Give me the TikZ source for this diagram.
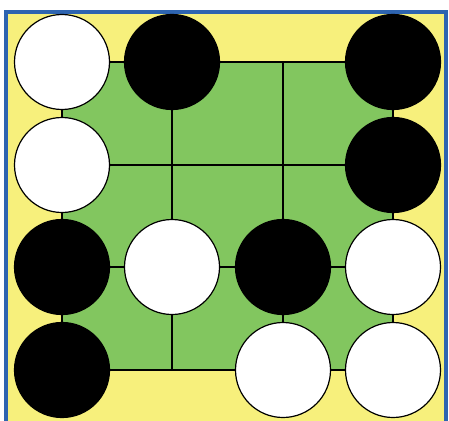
\documentclass[tikz,border=0pt]{standalone}
\usepackage{tikz}
\usepackage{xcolor}

\definecolor{boardyellow}{RGB}{247,240,124}
\definecolor{boardgreen}{RGB}{130,198,95}
\definecolor{frameblue}{RGB}{46,100,176}

\begin{document}
\begin{tikzpicture}[x=1pt,y=-1pt,
	stone/.style={circle,draw=black,line width=1.2pt,minimum size=95pt,inner sep=0pt},
	white stone/.style={stone,fill=white},
	black stone/.style={stone,fill=black}]
	\useasboundingbox (0,0) rectangle (449,420);
	\fill[white] (0,0) rectangle (449,420);
	\fill[boardyellow] (6,12) rectangle (446,426);
	\draw[frameblue,line width=3.5pt] (6,12) rectangle (446,426);

	% board points
	\foreach \i/\x in {1/62,2/172,3/283,4/393}
		\foreach \j/\y in {1/62,2/165,3/267,4/370}
			\coordinate (p\i\j) at (\x,\y);

	\fill[boardgreen] (p11) rectangle (p44);
	\foreach \k in {1,...,4} {
		\draw[line width=2.6pt] (p1\k) -- (p4\k);
		\draw[line width=2.6pt] (p\k1) -- (p\k4);
	}

	\node[white stone] (w11) at (p11) {};
	\node[black stone] (b21) at (p21) {};
	\node[black stone] (b41) at (p41) {};
	\node[white stone] (w12) at (p12) {};
	\node[black stone] (b42) at (p42) {};
	\node[black stone] (b13) at (p13) {};
	\node[white stone] (w23) at (p23) {};
	\node[black stone] (b33) at (p33) {};
	\node[white stone] (w43) at (p43) {};
	\node[black stone] (b14) at (p14) {};
	\node[white stone] (w34) at (p34) {};
	\node[white stone] (w44) at (p44) {};
\end{tikzpicture}
\end{document}
